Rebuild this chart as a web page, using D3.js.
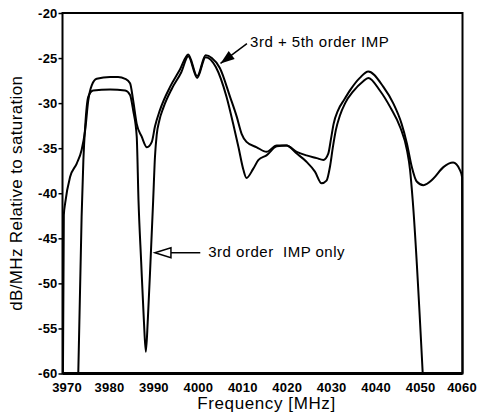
<html>
<head>
<script src="https://d3js.org/d3.v7.min.js"></script>
<style>
  body { margin: 0; background: #fff; }
  .tick text { font-family: "Liberation Sans", Arial, sans-serif; font-size: 13px; font-weight: bold; letter-spacing: 0.2px; fill: #000; }
  .tick line { stroke: #000; stroke-width: 1.5px; }
  .title { font-family: "Liberation Sans", Arial, sans-serif; font-size: 17px; fill: #000; }
  .note { font-family: "Liberation Sans", Arial, sans-serif; font-size: 15px; letter-spacing: 0.5px; fill: #000; white-space: pre; }
  .curve { fill: none; stroke: #000; stroke-width: 2px; stroke-linejoin: round; }
</style>
</head>
<body>
<script>
// 3rd + 5th order IMP
var freqA = [3970.1, 3970.3, 3970.6, 3971.7, 3973.2, 3974.3, 3975.1, 3975.8, 3976.6, 3977.7, 3980.7, 3982.5,
  3984.1, 3985.2, 3985.9, 3986.7, 3987.8, 3989.0, 3990.1, 3990.8, 3991.9, 3994.2, 3996.4, 3998.3, 4000.3,
  4002.2, 4003.6, 4005.4, 4007.7, 4009.2, 4010.3, 4011.4, 4013.7, 4015.9, 4018.2, 4020.4, 4022.7, 4024.9,
  4027.2, 4028.7, 4029.8, 4030.4, 4031.0, 4032.0, 4033.4, 4034.8, 4036.9, 4038.8, 4042.2, 4044.4, 4046.3,
  4047.5, 4048.6, 4049.7, 4051.2, 4053.4, 4055.7, 4057.9, 4059.4, 4059.9, 4060];
var dbA = [-60, -42.4, -41.1, -38.2, -36.7, -35.2, -33.0, -29.7, -28.0, -27.3, -27.1, -27.1,
  -27.3, -27.8, -29.7, -32.3, -33.7, -34.9, -34.3, -32.6, -30.8, -28.2, -26.3, -24.6, -27.0,
  -24.7, -25.0, -26.1, -29.3, -31.5, -33.4, -34.3, -34.9, -35.4, -34.7, -34.7, -35.4, -35.8,
  -36.1, -36.3, -35.6, -34.0, -32.3, -30.8, -29.6, -28.5, -27.2, -26.5, -28.2, -30.0, -32.3,
  -34.5, -37.1, -38.7, -39.1, -38.4, -37.1, -36.6, -37.4, -38.2, -60];

// 3rd order IMP only
var freqB = [3973.55, 3974.3, 3974.7, 3975.1, 3975.8, 3976.9, 3980.7, 3984.1, 3985.2, 3985.9, 3986.7,
  3987.1, 3987.7, 3988.3, 3988.75, 3989.2, 3989.8, 3990.4, 3990.8, 3991.2, 3991.8, 3992.7, 3994.6, 3996.7,
  3998.3, 4000.3, 4002.2, 4004.5, 4006.9, 4008.4, 4009.6, 4010.7, 4011.4, 4012.9, 4014.1, 4015.9, 4018.2,
  4020.4, 4022.7, 4024.9, 4026.8, 4028.3, 4029.4, 4030.2, 4030.8, 4031.5, 4032.4, 4033.6, 4035.4, 4037.6,
  4038.8, 4041.4, 4043.8, 4046.0, 4047.5, 4048.2, 4048.8, 4051.05];
var dbB = [-60, -42.6, -36.3, -32.6, -29.3, -28.6, -28.5, -28.6, -29.1, -30.8, -33.7,
  -40.8, -47.6, -54.0, -57.6, -54.0, -47.6, -40.8, -36.0, -33.5, -31.9, -30.5, -28.4, -26.6,
  -24.8, -27.2, -24.9, -26.0, -29.3, -32.3, -34.9, -37.4, -38.3, -37.3, -36.3, -35.8, -34.8,
  -34.7, -35.6, -36.5, -37.6, -38.9, -38.6, -37.0, -35.0, -33.0, -31.4, -30.0, -28.7, -27.6,
  -27.2, -28.6, -30.5, -32.7, -35.2, -37.4, -40.8, -60];

var xTicks = [3970, 3980, 3990, 4000, 4010, 4020, 4030, 4040, 4050, 4060];
var yTicks = [-20, -25, -30, -35, -40, -45, -50, -55, -60];
var labels = ["3rd + 5th order IMP", "3rd order  IMP only"];

var W = 478, H = 415;
var x = d3.scaleLinear().domain([3970, 4060]).range([62.5, 462.5]);
var y = d3.scaleLinear().domain([-60, -20]).range([373.5, 13]);

var svg = d3.select("body").append("svg").attr("width", W).attr("height", H);

svg.append("g")
  .attr("transform", "translate(0," + y(-60) + ")")
  .call(d3.axisBottom(x).tickValues(xTicks).tickSize(0).tickPadding(9).tickFormat(d => String(d)))
  .call(g => g.select(".domain").remove())
  .call(g => g.selectAll(".tick text").attr("dx", d => d == 3970 ? 4 : d == 4060 ? -1 : 2));

svg.append("g")
  .attr("transform", "translate(" + x(3970) + ",0)")
  .call(d3.axisLeft(y).tickValues(yTicks).tickSize(4).tickPadding(1).tickFormat(d => String(d)))
  .call(g => g.select(".domain").remove());

// frame
svg.append("rect")
  .attr("x", x(3970)).attr("y", y(-20))
  .attr("width", x(4060) - x(3970)).attr("height", y(-60) - y(-20))
  .attr("fill", "none").attr("stroke", "#000").attr("stroke-width", 2);
svg.append("line")
  .attr("x1", x(3970)).attr("x2", x(4060)).attr("y1", y(-60)).attr("y2", y(-60))
  .attr("stroke", "#000").attr("stroke-width", 3);

var line = d3.line().x(d => x(d[0])).y(d => y(d[1])).curve(d3.curveMonotoneX);

svg.append("path").attr("class", "curve").attr("d", line(d3.zip(freqA, dbA)));
svg.append("path").attr("class", "curve").attr("d", line(d3.zip(freqB, dbB)));

// axis titles
svg.append("text").attr("class", "title")
  .attr("x", (x(3970) + x(4060)) / 2 + 4).attr("y", 409)
  .attr("text-anchor", "middle").style("letter-spacing", "0.6px")
  .text("Frequency [MHz]");
svg.append("text").attr("class", "title")
  .attr("transform", "translate(22," + ((y(-20) + y(-60)) / 2) + ") rotate(-90)")
  .attr("text-anchor", "middle").style("letter-spacing", "0.35px")
  .text("dB/MHz Relative to saturation");

// annotations
function head(tip, from, len, half) {
  var dx = tip[0] - from[0], dy = tip[1] - from[1], d = Math.sqrt(dx * dx + dy * dy);
  var ux = dx / d, uy = dy / d;
  var bx = tip[0] - ux * len, by = tip[1] - uy * len;
  return "M" + tip[0] + "," + tip[1] +
    "L" + (bx - uy * half) + "," + (by + ux * half) +
    "L" + (bx + uy * half) + "," + (by - ux * half) + "Z";
}

var t1 = [x(4005.55), y(-25.6)], s1 = [x(4011.5), y(-23.4)];
svg.append("line").attr("x1", s1[0]).attr("y1", s1[1]).attr("x2", t1[0]).attr("y2", t1[1])
  .attr("stroke", "#000").attr("stroke-width", 1.5);
svg.append("path").attr("d", head(t1, s1, 14, 5)).attr("fill", "#000");
svg.append("text").attr("class", "note").attr("x", x(4012.2)).attr("y", y(-23.8)).text(labels[0]);

var t2 = [x(3990.8), y(-46.6)], s2 = [x(4001.0), y(-46.6)];
svg.append("line").attr("x1", s2[0]).attr("y1", s2[1]).attr("x2", t2[0] + 16).attr("y2", t2[1])
  .attr("stroke", "#000").attr("stroke-width", 1.5);
svg.append("path").attr("d", head(t2, s2, 16, 5)).attr("fill", "#fff").attr("stroke", "#000").attr("stroke-width", 1.5);
svg.append("text").attr("class", "note").attr("x", x(4002.8)).attr("y", y(-47.1)).text(labels[1]);
</script>
</body>
</html>
